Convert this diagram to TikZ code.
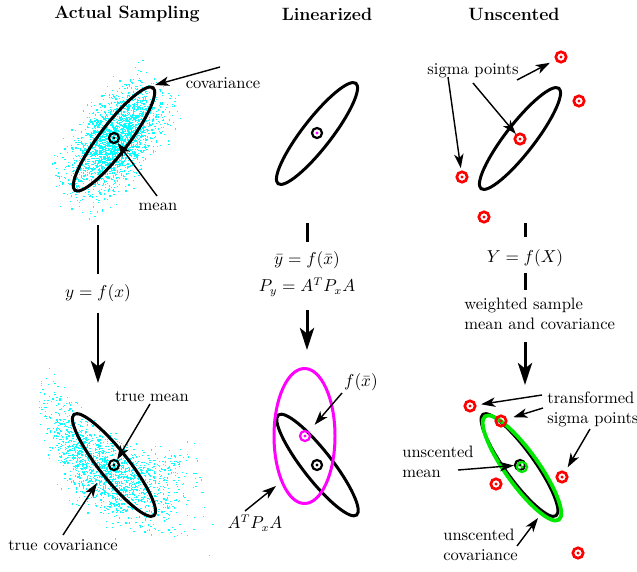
\documentclass[tikz,border=0pt]{standalone}
\usepackage{amsmath}
\usepackage{tikz}
\usetikzlibrary{arrows.meta}
\definecolor{samplecyan}{RGB}{0,255,255}
\definecolor{linmagenta}{RGB}{255,0,255}
\definecolor{ukfgreen}{RGB}{0,232,0}
\definecolor{sigmared}{RGB}{255,0,0}
\tikzset{
	covline/.style={line width=1.9pt}
}
\tikzset{
	notearrow/.style={-{Stealth[length=9pt,width=6pt,inset=2.5pt]}, line width=0.9pt}
}
\tikzset{
	flowline/.style={line width=1.9pt},
	flowarrow/.style={line width=1.9pt, -{Stealth[length=14pt,width=9pt,inset=3.5pt]}}
}
\tikzset{
	ringmark/.style 2 args={circle, draw=#1, line width=1.4pt, minimum size=6.4pt, inner sep=0pt,
		path picture={\fill[#2] (path picture bounding box.center) circle (1.1pt);}},
	sigmapt/.style={ringmark={sigmared}{sigmared}, line width=1.7pt, minimum size=6.6pt},
	titletext/.style={font=\fontsize{11.3}{13.5}\selectfont\bfseries},
	blocktext/.style={align=left, inner sep=0pt, anchor=west},
	eqtight/.style={inner sep=1pt}
}

\begin{document}
\begin{tikzpicture}[x=0.635pt, y=0.635pt, every node/.style={font=\fontsize{10.5}{12.6}\selectfont}]
      \useasboundingbox (0,0) rectangle (637,-571);

      % column titles
      \node[titletext] (t1) at (127,-14) {Actual Sampling};
      \node[titletext] (t2) at (327,-14) {Linearized};
      \node[titletext] (t3) at (514,-14) {Unscented};

      % random samples before the nonlinearity
      \pgfmathsetseed{4242}
      \foreach \k in {1,...,2400} {
        \pgfmathsetmacro{\ru}{rand+rand+rand}
        \pgfmathsetmacro{\rv}{rand+rand+rand}
        \fill[samplecyan] ({115+18*\ru+12.8*\rv},{-140+24*\ru-9.6*\rv}) rectangle ++(1.2,-1.2);
      }
      % the same cloud after f: a bent fan around (200,380)
      \foreach \k in {1,...,1800} {
        \pgfmathsetmacro{\ru}{rand+rand+rand}
        \pgfmathsetmacro{\rv}{rand+rand+rand}
        \pgfmathsetmacro{\ra}{225+18*\ru}
        \pgfmathsetmacro{\rt}{0.5+0.2*\ru}
        \pgfmathsetmacro{\rr}{150-35*\rt+(8+18*\rt)*\rv}
        \fill[samplecyan] ({200+\rr*cos(\ra)},{-380+\rr*sin(\ra)}) rectangle ++(1.2,-1.2);
      }

      % covariance ellipses
      \draw[covline, rotate around={52.7:(114,-139)}] (114,-139) ellipse [x radius=64.5, y radius=14.5];
      \draw[covline, rotate around={-51.7:(114,-465)}] (114,-465) ellipse [x radius=64.5, y radius=14.5];
      \draw[covline, rotate around={52.2:(317,-133.5)}] (317,-133.5) ellipse [x radius=63.5, y radius=14.5];
      \draw[covline, rotate around={-52:(317.5,-465)}] (317.5,-465) ellipse [x radius=63.5, y radius=14.5];
      \draw[covline, linmagenta] (304.5,-436) ellipse [x radius=30.5, y radius=67.5];
      \draw[covline, rotate around={52.2:(520,-138.5)}] (520,-138.5) ellipse [x radius=63.5, y radius=14.5];
      \draw[covline, rotate around={-54.2:(519.5,-465)}] (519.5,-465) ellipse [x radius=62.5, y radius=14.5];
      \draw[covline, ukfgreen, line width=2.4pt, rotate around={-54.5:(522,-468)}] (522,-468) ellipse [x radius=63.5, y radius=16.5];

      % means
      \node[ringmark={black}{black}] (m1) at (114,-138) {};
      \node[ringmark={black}{black}] (m1b) at (114,-465) {};
      \node[ringmark={black}{linmagenta}] (m2) at (317,-133) {};
      \node[ringmark={linmagenta}{linmagenta}] (m2f) at (305,-436) {};
      \node[ringmark={black}{black}] (m2b) at (317,-465) {};
      \node[ringmark={black}{black}] (m3) at (520,-465) {};
      \node[ringmark={ukfgreen}{ukfgreen}] (m3g) at (522,-467) {};

      % sigma points, before and after f
      \foreach \p/\nm in {(520,-139)/s0,(561,-57)/s1,(579,-101)/s2,(462,-177)/s3,(484,-217)/s4} {
        \node[sigmapt] (\nm) at \p {};
      }
      \foreach \p/\nm in {(470,-406)/u1,(501,-421)/u2,(562,-477)/u3,(496,-484)/u4,(578,-553)/u5} {
        \node[sigmapt] (\nm) at \p {};
      }

      % labels
      \node (covlbl) at (223,-83) {covariance};
      \node (meanlbl) at (158,-207) {mean};
      \node (tmlbl) at (152,-396) {true mean};
      \node (tclbl) at (63,-545) {true covariance};
      \node (fxlbl) at (361,-382) {$f(\bar{x})$};
      \node (aplbl) at (255,-523) {$A^TP_xA$};
      \node (sigmalbl) at (473,-71) {sigma points};
      \node[blocktext] (trlbl) at (547,-409.4) {transformed\\sigma points};
      \node[blocktext] (umlbl) at (402,-461.8) {unscented\\mean};
      \node[blocktext] (uclbl) at (443,-544.8) {unscented\\covariance};

      % annotation arrows
      \coordinate (covtail) at (220,-67);
      \coordinate (covhead) at (155,-85);
      \draw[notearrow] (covtail) -- (covhead);
      \coordinate (meantail) at (157,-196);
      \draw[notearrow] (meantail) -- (m1);
      \coordinate (tmtail) at (150,-404);
      \draw[notearrow] (tmtail) -- (m1b);
      \coordinate (tctail) at (63,-535);
      \coordinate (tchead) at (97,-483);
      \draw[notearrow] (tctail) -- (tchead);
      \coordinate (fxtail) at (342,-393);
      \draw[notearrow, shorten >=5.5pt] (fxtail) -- (m2f);
      \coordinate (aptail) at (245,-511);
      \coordinate (aphead) at (276,-486);
      \draw[notearrow] (aptail) -- (aphead);
      \coordinate (sgtail1) at (517,-80);
      \coordinate (sgtail0) at (473,-83);
      \coordinate (sgtail3) at (448,-77);
      \draw[notearrow, shorten >=3.8pt] (sgtail1) -- (s1);
      \draw[notearrow] (sgtail0) -- (s0);
      \draw[notearrow, shorten >=1.5pt] (sgtail3) -- (s3);
      \coordinate (trtail1) at (542,-395);
      \coordinate (trtail2) at (543,-408);
      \coordinate (trtail3) at (590,-429);
      \draw[notearrow, shorten >=3pt] (trtail1) -- (u1);
      \draw[notearrow, shorten >=4pt] (trtail2) -- (u2);
      \draw[notearrow, shorten >=3pt] (trtail3) -- (u3);
      \coordinate (umtail) at (458,-470);
      \draw[notearrow] (umtail) -- (m3);
      \coordinate (uctail) at (517,-546);
      \coordinate (uchead) at (538,-518);
      \draw[notearrow] (uctail) -- (uchead);

      % actual sampling flow
      \coordinate (c1a) at (98,-225);
      \coordinate (c1e) at (98,-383);
      \node (eq1) at (98,-293) {$y=f(x)$};
      \draw[flowline, shorten >=2.9pt] (c1a) -- (eq1.north);
      \draw[flowarrow, shorten <=3.5pt] (eq1.south) -- (c1e);

      % linearized flow
      \coordinate (c2a) at (307,-223);
      \coordinate (c2e) at (307,-350);
      \node[eqtight] (eq2a) at (307,-260) {$\bar{y}=f(\bar{x})$};
      \node[eqtight] (eq2b) at (307,-287) {$P_y=A^TP_xA$};
      \draw[flowline, shorten >=4.6pt] (c2a) -- (eq2a.north);
      \draw[flowarrow, shorten <=7.4pt] (eq2b.south) -- (c2e);

      % unscented flow
      \coordinate (c3a) at (525,-223);
      \coordinate (c3e) at (525,-385);
      \node (eq3) at (525,-258) {$Y=f(X)$};
      \node[blocktext] (wtlbl) at (464,-313.8) {weighted sample\\mean and covariance};
      \draw[flowline, shorten >=4.1pt] (c3a) -- (eq3.north);
      \draw[flowline, shorten <=0.3pt, shorten >=4.6pt] (eq3.south) -- (eq3.south |- wtlbl.north);
      \draw[flowarrow, shorten <=8pt] (wtlbl.south -| c3e) -- (c3e);
    \end{tikzpicture}
\end{document}
